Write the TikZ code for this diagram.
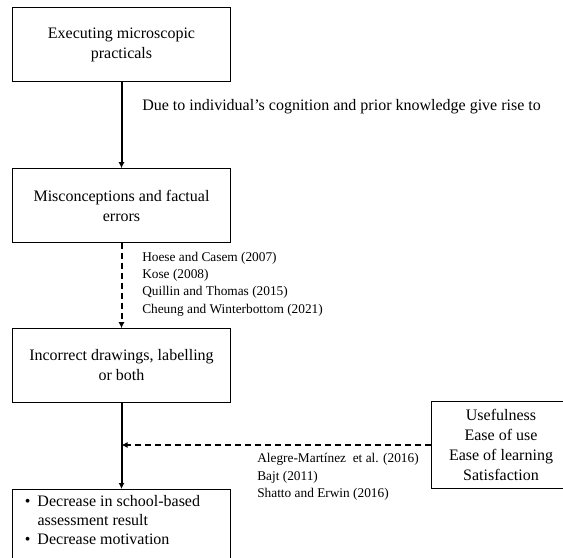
\documentclass[tikz,border=0pt]{standalone}
\usepackage{fontspec}
\setmainfont{Liberation Serif}
\usetikzlibrary{arrows.meta}
\newcommand{\bitem}[1]{\par\hangindent=9.5pt\hangafter=1\noindent\makebox[9.5pt][l]{\textbullet}#1}

\begin{document}
\begin{tikzpicture}[x=0.75pt,y=-0.75pt]
\tikzstyle{every node}+=[inner sep=0pt]
\tikzstyle{box}=[draw=black, line width=0.9pt, minimum width=164pt, minimum height=55pt, align=center, font=\fontsize{12}{15}\selectfont]
\tikzstyle{link}=[black, line width=1.5pt, -{Latex[length=4.5pt,width=4.5pt]}]
\tikzstyle{dlink}=[link, dash pattern=on 4.5pt off 3pt]
\tikzstyle{refs}=[anchor=west, align=left, font=\fontsize{10}{13}\selectfont]
\useasboundingbox (0,0) rectangle (563,557);
\clip (0,0) rectangle (563,557);
\node (exec) at (121.5,44.5) [box] {Executing microscopic\\practicals};
\node (miscon) at (121.5,205.5) [box] {Misconceptions and factual\\errors};
\node (incor) at (121.5,365.5) [box] {Incorrect drawings, labelling\\or both};
\node (decr) at (121.5,489) [box, anchor=north, align=left, inner xsep=9pt, inner ysep=4.5pt]
  {\parbox[t][70pt][t]{145pt}{\fontsize{12}{14}\selectfont\raggedright
   \bitem{Decrease in school-based assessment result}
   \bitem{Decrease motivation}}};
\node (feat) at (501,445) [box, draw=none, minimum width=103.5pt, minimum height=64.5pt] {Usefulness\\Ease of use\\Ease of learning\\Satisfaction};
\draw [black, line width=0.9pt] (feat.north west) ++(200,0) -- (feat.north west) -- (feat.south west) -- ++(200,0);
\node (cause) at (142,107) [anchor=west, font=\fontsize{12}{15}\selectfont] {Due to individual’s cognition and prior knowledge give rise to};
\node (refa) at (142,284) [refs] {Hoese and Casem (2007)\\Kose (2008)\\Quillin and Thomas (2015)\\Cheung and Winterbottom (2021)};
\node (refb) at (257,477) [refs] {Alegre-Martínez\ \ et al. (2016)\\Bajt (2011)\\Shatto and Erwin (2016)};
\coordinate (meet) at (incor.south |- feat.west);
\draw [link] (exec) -- (miscon);
\draw [dlink] (miscon) -- (incor);
\draw [link] (incor) -- (decr);
\draw [dlink] (feat) -- (meet);
\end{tikzpicture}
\end{document}
